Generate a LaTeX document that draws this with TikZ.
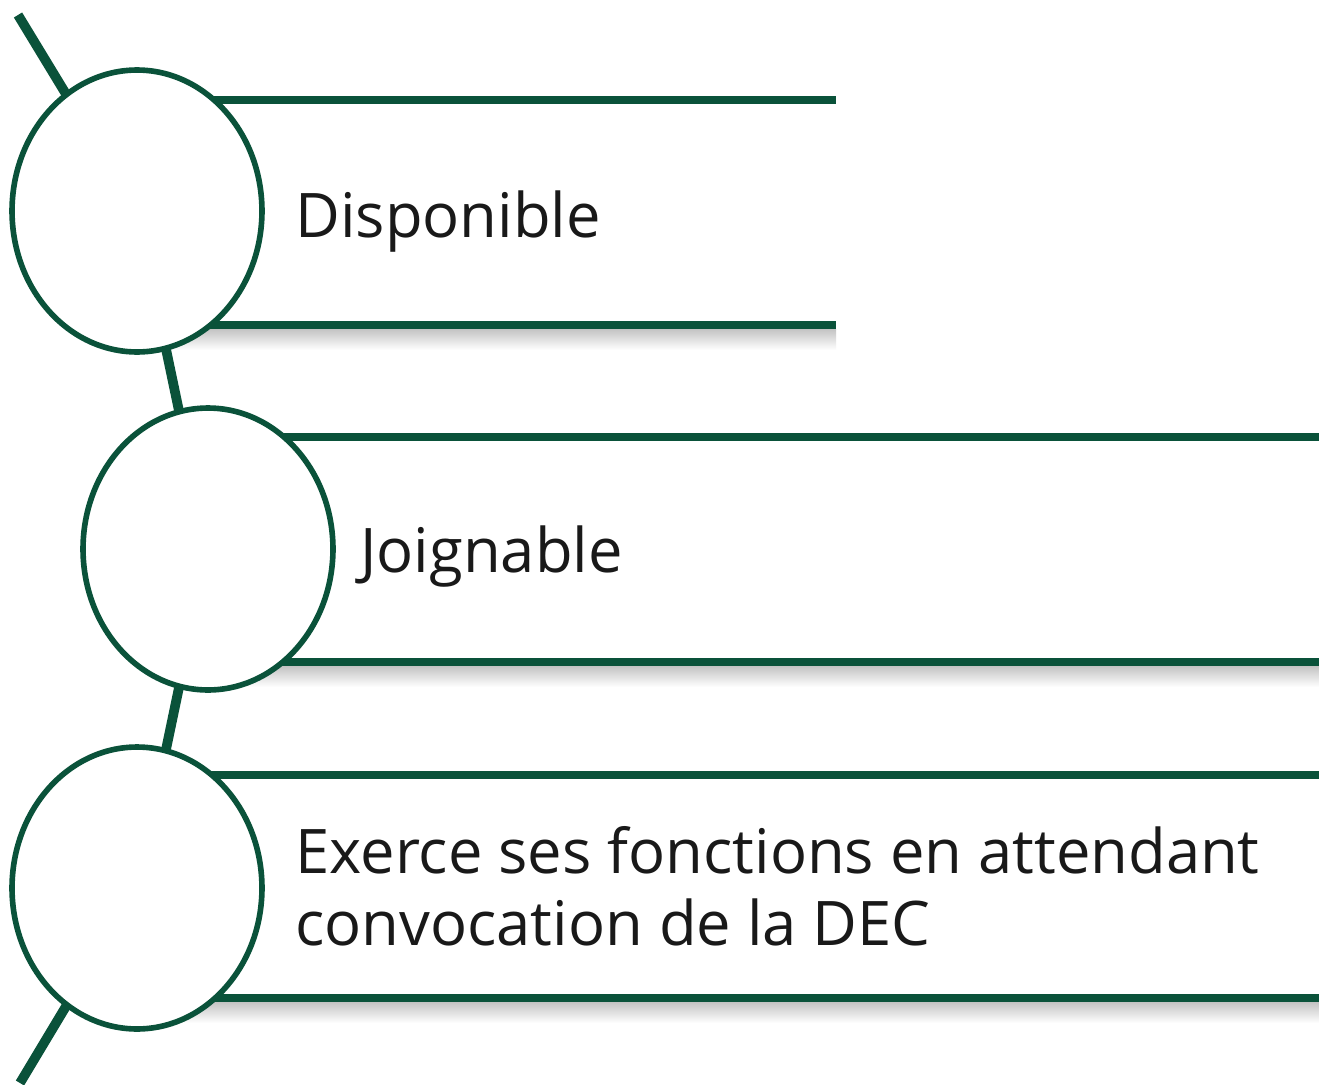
\documentclass[tikz,border=0pt]{standalone}
\usepackage{fontspec}
\setmainfont{Open Sans}
\usepackage{xcolor}
\usepackage{tikz}
\usetikzlibrary{shapes,backgrounds}
\definecolor{dgreen}{RGB}{10,82,58}
\tikzstyle{bubble} = [ellipse, draw=dgreen, line width=3.2pt, fill=white,
minimum width=5cm, minimum height=5.64cm, inner sep=0pt]
\tikzstyle{spine} = [draw=dgreen, line width=5.5pt]
\tikzstyle{bar} = [draw=dgreen, line width=5pt]
\tikzstyle{label} = [anchor=base west, inner sep=0pt, text=black!90,
font=\fontsize{35}{40.8}\selectfont, align=left]
\tikzstyle{shadow} = [top color=black!28, bottom color=white, draw=none]

\begin{document}
\begin{tikzpicture}[x=0.02cm, y=-0.02cm]
	\useasboundingbox (0,0) rectangle (1319,1085);
	
	\node [bubble] (disp) at (137,211) {};
	\node [bubble] (join) at (208,549) {};
	\node [bubble] (exer) at (137,888) {};
	
	\coordinate (start) at (18,15);
	\coordinate (end) at (20,1083);
	
	\coordinate (disptop) at (836,100);
	\coordinate (dispbot) at (836,325);
	\coordinate (jointop) at (1319,437);
	\coordinate (joinbot) at (1319,662);
	\coordinate (exertop) at (1319,775);
	\coordinate (exerbot) at (1319,998);
	
	
	\node [label] (disptext) at (295,237) {Disponible};
	\node [label] (jointext) at (360,572) {Joignable};
	\node [label] (exertext) at (295,945)
	{Exerce ses fonctions en attendant\\convocation de la DEC};
	
	
	\begin{scope}[on background layer]
	\fill [white] (0,0) rectangle (1319,1085);
	\shade [shadow] (disp.center |- dispbot) ++(0,4) rectangle ([yshift=-0.5cm]dispbot);
	\shade [shadow] (join.center |- joinbot) ++(0,4) rectangle ([yshift=-0.5cm]joinbot);
	\shade [shadow] (exer.center |- exerbot) ++(0,4) rectangle ([yshift=-0.5cm]exerbot);
	
	\path [spine] (start)--(disp.center)--(join.center)--(exer.center)--(end);
	
	\path [bar] (disp.center |- disptop)--(disptop);
	\path [bar] (disp.center |- dispbot)--(dispbot);
	\path [bar] (join.center |- jointop)--(jointop);
	\path [bar] (join.center |- joinbot)--(joinbot);
	\path [bar] (exer.center |- exertop)--(exertop);
	\path [bar] (exer.center |- exerbot)--(exerbot);
	\end{scope}
\end{tikzpicture}
\end{document}
